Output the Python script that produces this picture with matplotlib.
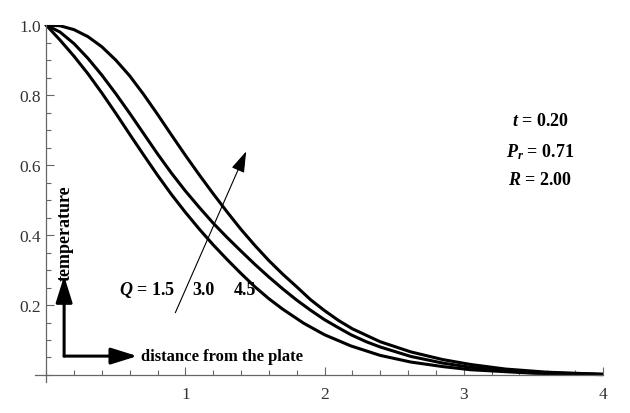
import matplotlib
matplotlib.use("Agg")
import matplotlib.pyplot as plt
from matplotlib.ticker import MultipleLocator, FixedLocator

plt.rcParams['mathtext.fontset'] = 'custom'
plt.rcParams['mathtext.rm'] = 'Liberation Serif:bold'
plt.rcParams['mathtext.it'] = 'Liberation Serif:italic:bold'
plt.rcParams['mathtext.bf'] = 'Liberation Serif:bold'

# ---- data ----
x_q45 = [0.0, 0.1, 0.2, 0.3, 0.4, 0.5, 0.6, 0.7, 0.8, 0.9, 1.0, 1.1, 1.2, 1.3, 1.4,
         1.5, 1.6, 1.7, 1.8, 1.9, 2.0, 2.1, 2.2, 2.4, 2.62, 2.85, 3.05, 3.3, 3.6, 4.0]
t_q45 = [1.0, 0.998, 0.987, 0.967, 0.938, 0.9, 0.855, 0.802, 0.745, 0.686, 0.628, 0.572,
         0.518, 0.466, 0.416, 0.37, 0.327, 0.288, 0.252, 0.215, 0.184, 0.156, 0.132,
         0.095, 0.066, 0.044, 0.03, 0.017, 0.008, 0.002]

x_q30 = [0.0, 0.1, 0.2, 0.3, 0.4, 0.5, 0.6, 0.7, 0.8, 0.9, 1.0, 1.1, 1.2, 1.3, 1.4,
         1.5, 1.6, 1.7, 1.8, 1.9, 2.0, 2.1, 2.19, 2.3, 2.4, 2.62, 2.85, 3.05, 3.5, 4.0]
t_q30 = [1.0, 0.98, 0.947, 0.905, 0.857, 0.804, 0.748, 0.69, 0.632, 0.577, 0.526, 0.479,
         0.434, 0.393, 0.354, 0.316, 0.28, 0.246, 0.214, 0.185, 0.158, 0.135, 0.115,
         0.095, 0.08, 0.053, 0.034, 0.022, 0.007, 0.002]

x_q15 = [0.0, 0.1, 0.2, 0.3, 0.4, 0.5, 0.6, 0.7, 0.8, 0.9, 1.0, 1.1, 1.2, 1.3, 1.4,
         1.5, 1.6, 1.7, 1.85, 2.0, 2.19, 2.4, 2.62, 2.85, 3.05, 3.5, 4.0]
t_q15 = [1.0, 0.957, 0.911, 0.861, 0.806, 0.748, 0.688, 0.629, 0.571, 0.516, 0.465, 0.417,
         0.372, 0.33, 0.29, 0.252, 0.218, 0.188, 0.148, 0.115, 0.083, 0.056, 0.037,
         0.024, 0.015, 0.005, 0.001]

x_ticks = [1, 2, 3, 4]
x_tick_labels = ["1", "2", "3", "4"]
y_ticks = [0.2, 0.4, 0.6, 0.8, 1.0]
y_tick_labels = ["0.2", "0.4", "0.6", "0.8", "1.0"]

fig = plt.figure(figsize=(6.3, 4.14), dpi=100)
ax = fig.add_axes([0.0556, 0.0749, 0.957 - 0.0556, 0.937 - 0.0749])

for xs, ys in [(x_q15, t_q15), (x_q30, t_q30), (x_q45, t_q45)]:
    ax.plot(xs, ys, color='black', lw=2.2, solid_capstyle='round', solid_joinstyle='round')

ax.set_xlim(-0.08, 4.0)
ax.set_ylim(-0.02, 1.0)

for s in ['top', 'right']:
    ax.spines[s].set_visible(False)
ax.spines['left'].set_position(('data', 0))
ax.spines['bottom'].set_position(('data', 0))
for s in ['left', 'bottom']:
    ax.spines[s].set_color('#666666')
    ax.spines[s].set_linewidth(0.9)

ax.xaxis.set_major_locator(FixedLocator(x_ticks))
ax.set_xticklabels(x_tick_labels)
ax.yaxis.set_major_locator(FixedLocator(y_ticks))
ax.set_yticklabels(y_tick_labels)
ax.xaxis.set_minor_locator(MultipleLocator(0.2))
ax.yaxis.set_minor_locator(MultipleLocator(0.05))
ax.tick_params(which='both', direction='in', color='#666666', width=0.8)
ax.tick_params(which='major', length=6)
ax.tick_params(which='minor', length=3.5)
ax.tick_params(axis='x', which='major', pad=8)
ax.tick_params(axis='y', which='major', pad=4)
for lab in ax.get_xticklabels() + ax.get_yticklabels():
    lab.set_fontfamily('Liberation Serif')
    lab.set_fontsize(12.5)
    lab.set_color('#333333')

serif = dict(fontfamily='Liberation Serif', fontweight='bold', color='black')

# parameter block
ax.text(3.55, 0.726, r'$t$ = 0.20', fontsize=13, ha='center', va='center', **serif)
ax.text(3.55, 0.64, r'$P_r$ = 0.71', fontsize=13, ha='center', va='center', **serif)
ax.text(3.55, 0.56, r'$R$ = 2.00', fontsize=13, ha='center', va='center', **serif)

# Q labels
ax.text(0.52, 0.245, r'$Q$ = 1.5', fontsize=13, ha='left', va='center', **serif)
ax.text(1.05, 0.245, '3.0', fontsize=13, ha='left', va='center', **serif)
ax.text(1.35, 0.245, '4.5', fontsize=13, ha='left', va='center', **serif)

# thin arrow showing increasing Q
ax.annotate('', xy=(1.437, 0.639), xytext=(0.928, 0.178),
            arrowprops=dict(arrowstyle='-|>,head_length=1.3,head_width=0.42',
                            lw=0.8, color='black', shrinkA=0, shrinkB=0))

# axis-label arrows
corner = (0.129, 0.054)
ax.annotate('', xy=(0.129, 0.283), xytext=corner,
            arrowprops=dict(arrowstyle='-|>,head_length=1.6,head_width=0.5',
                            lw=2.2, color='black', shrinkA=0, shrinkB=0))
ax.annotate('', xy=(0.655, 0.054), xytext=corner,
            arrowprops=dict(arrowstyle='-|>,head_length=1.6,head_width=0.5',
                            lw=2.2, color='black', shrinkA=0, shrinkB=0))
ax.text(0.68, 0.054, 'distance from the plate', fontsize=12, ha='left', va='center', **serif)
ax.text(0.14, 0.272, 'temperature', fontsize=13, rotation=90, ha='center', va='bottom', **serif)

fig.savefig('out.png', dpi=100)
